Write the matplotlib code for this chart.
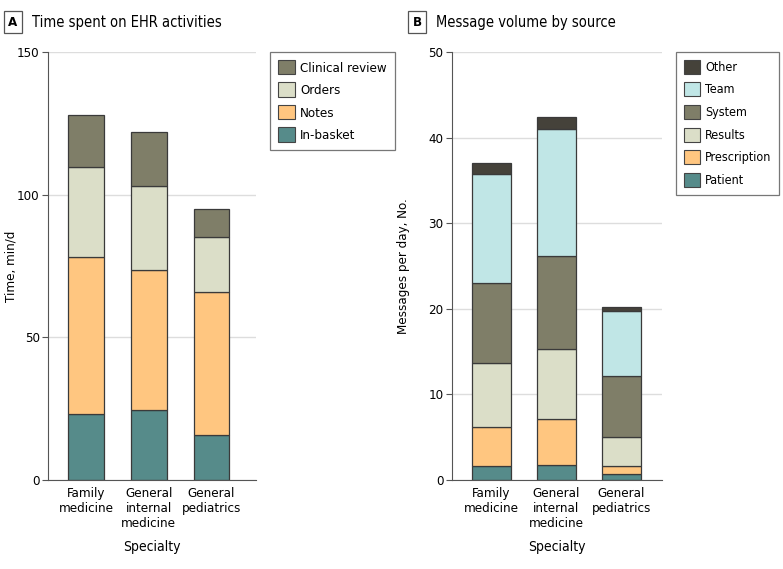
import numpy as np
import matplotlib
matplotlib.use("Agg")
import matplotlib.pyplot as plt
from matplotlib.patches import Patch

plt.rcParams['font.family'] = ['DejaVu Sans']
plt.rcParams['font.stretch'] = 'condensed'

specialties = ["Family\nmedicine", "General\ninternal\nmedicine", "General\npediatrics"]

# panel A, minutes per day
ehr_labels = ["In-basket", "Notes", "Orders", "Clinical review"]
inbasket = [23.0, 24.4, 15.9]
notes = [55.3, 49.2, 50.0]
orders = [31.5, 29.6, 19.4]
clinical = [18.2, 18.7, 9.6]

# panel B, messages per day
msg_labels = ["Patient", "Prescription", "Results", "System", "Team", "Other"]
patient = [1.6, 1.7, 0.66]
prescription = [4.6, 5.4, 0.98]
results = [7.44, 8.15, 3.43]
system = [9.39, 10.95, 7.05]
team = [12.75, 14.8, 7.6]
other = [1.25, 1.4, 0.54]

c_dark = "#7f7e68"
c_light = "#dbdec8"
c_orange = "#ffc680"
c_teal = "#568b8a"
c_cyan = "#c0e6e6"
c_other = "#45423a"

fig = plt.figure(figsize=(7.83, 5.69), dpi=100)
W, H = 783, 569


def style_axis(ax, ymax, step, label, labx):
    ax.set_ylim(0, ymax)
    ax.set_yticks(np.arange(0, ymax + 1, step))
    for s in ["top", "right"]:
        ax.spines[s].set_visible(False)
    ax.spines["left"].set_color("#555555")
    ax.spines["bottom"].set_color("#555555")
    ax.yaxis.grid(True, color="#dddddd", lw=1)
    ax.set_axisbelow(True)
    ax.tick_params(axis="y", length=4, color="#555555", labelsize=9.5, pad=2)
    ax.tick_params(axis="x", length=0, labelsize=9.5, pad=5)
    ax.set_ylabel(label, fontsize=9.5)
    ax.yaxis.set_label_coords(labx, 0.5)
    ax.set_xlabel("Specialty", fontsize=10, labelpad=7)


x = np.arange(3)

axA = fig.add_axes([48 / W, 1 - 480 / H, 208 / W, 428 / H])
bottom = np.zeros(3)
for vals, col in zip([inbasket, notes, orders, clinical], [c_teal, c_orange, c_light, c_dark]):
    axA.bar(x, vals, 0.57, bottom=bottom, color=col, edgecolor="#3a3a3a", lw=0.9)
    bottom += np.array(vals)
axA.set_xlim(-0.61, 2.71)
axA.set_xticks(x)
axA.set_xticklabels(specialties)
style_axis(axA, 150, 50, "Time, min/d", -0.145)

axB = fig.add_axes([451.7 / W, 1 - 480 / H, 210 / W, 428 / H])
bottom = np.zeros(3)
for vals, col in zip([patient, prescription, results, system, team, other],
                     [c_teal, c_orange, c_light, c_dark, c_cyan, c_other]):
    axB.bar(x, vals, 0.59, bottom=bottom, color=col, edgecolor="#3a3a3a", lw=0.9)
    bottom += np.array(vals)
axB.set_xlim(-0.61, 2.62)
axB.set_xticks(x)
axB.set_xticklabels(specialties)
style_axis(axB, 50, 10, "Messages per day, No.", -0.2)

# legends
hA = [Patch(facecolor=c, edgecolor="#444444", lw=0.8) for c in [c_dark, c_light, c_orange, c_teal]]
legA = fig.legend(hA, ehr_labels[::-1], loc="upper left",
                  bbox_to_anchor=(270 / W, 1 - 52 / H), bbox_transform=fig.transFigure,
                  fontsize=9.5, frameon=True, fancybox=False, edgecolor="#555555",
                  handlelength=1.3, handleheight=1.3, handletextpad=0.4,
                  labelspacing=0.6, borderpad=0.6, borderaxespad=0)
legA.get_frame().set_linewidth(0.9)

hB = [Patch(facecolor=c, edgecolor="#444444", lw=0.8)
      for c in [c_other, c_cyan, c_dark, c_light, c_orange, c_teal]]
legB = fig.legend(hB, msg_labels[::-1], loc="upper left",
                  bbox_to_anchor=(676 / W, 1 - 52 / H), bbox_transform=fig.transFigure,
                  fontsize=9, frameon=True, fancybox=False, edgecolor="#555555",
                  handlelength=1.35, handleheight=1.35, handletextpad=0.4,
                  labelspacing=0.68, borderpad=0.6, borderaxespad=0)
legB.get_frame().set_linewidth(0.9)

# panel titles
for px, letter, title in [(13, "A", "Time spent on EHR activities"),
                          (417, "B", "Message volume by source")]:
    fig.text(px / W, 1 - 22 / H, letter, ha="center", va="center", fontsize=9.5, fontweight="bold",
             bbox=dict(boxstyle="square,pad=0.35", facecolor="white", edgecolor="#555555", lw=0.9))
    fig.text((px + 19) / W, 1 - 22 / H, title, ha="left", va="center", fontsize=10.5)

fig.savefig("out.png", dpi=100)
